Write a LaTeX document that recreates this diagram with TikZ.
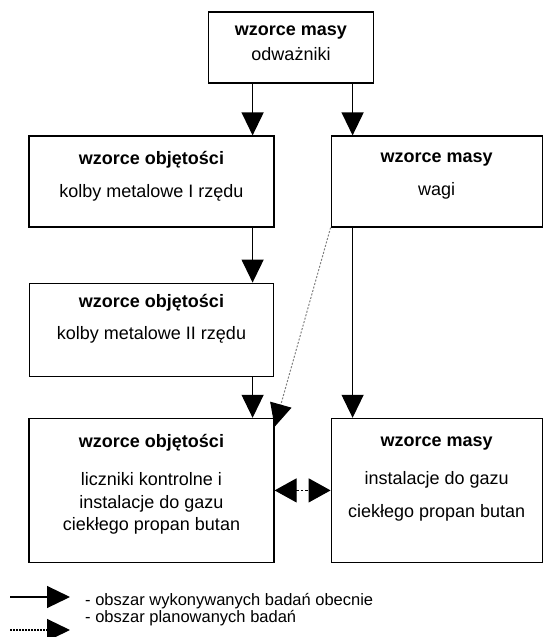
\documentclass[tikz,border=0pt]{standalone}
\usepackage{fontspec}
\setmainfont{Liberation Sans}
\usetikzlibrary{arrows.meta,positioning}

\begin{document}
\begin{tikzpicture}[
 x=1pt,y=-1pt,
 box/.style={draw,line width=1.2pt,inner sep=0pt,align=center,
   font=\fontsize{18}{21.6}\selectfont},
 legtext/.style={anchor=base west,inner sep=0pt,text height=12pt,text depth=3.5pt,
   font=\fontsize{16.5}{19.8}\selectfont},
 arr/.style={-{Triangle[length=23pt,width=22pt]},line width=1.2pt},
 plan/.style={arr,draw=gray,dash pattern=on 2pt off 1.6pt,line width=1pt}]
\useasboundingbox (0,0) rectangle (544,637);
\node[box,minimum width=165pt,minimum height=71pt,text depth=8pt] (top) at (291,47.5)
  {\textbf{wzorce masy}\\[3.4pt]odważniki};
\node[box,minimum width=245pt,minimum height=91pt,text depth=15pt] (obj1) at (151.5,181.5)
  {\textbf{wzorce objętości}\\[11.4pt]kolby metalowe I rzędu};
\node[box,minimum width=211pt,minimum height=91pt,text depth=15pt,right=56pt of obj1] (masa1)
  {\textbf{wzorce masy}\\[11.4pt]wagi};
\node[box,minimum width=244pt,minimum height=93pt,text depth=26pt,below=55pt of obj1] (obj2)
  {\textbf{wzorce objętości}\\[10.4pt]kolby metalowe II rzędu};
\node[box,minimum width=245pt,minimum height=144pt,text depth=17pt,below=41pt of obj2] (obj3)
  {\textbf{wzorce objętości}\\[16.4pt]liczniki kontrolne i\\[1.4pt]instalacje do gazu\\[0.4pt]ciekłego propan butan};
\node[box,minimum width=211pt,minimum height=144pt,text depth=27pt,right=56pt of obj3] (masa2)
  {\textbf{wzorce masy}\\[16.4pt]instalacje do gazu\\[11.4pt]ciekłego propan butan};
% arrow columns
\coordinate (a1) at ([xshift=-22pt]obj1.north east);
\coordinate (a2) at ([xshift=22pt]masa1.north west);
\draw[arr] (top.south -| a1) -- (a1);
\draw[arr] (top.south -| a2) -- (a2);
\draw[arr] (obj1.south -| a1) -- (obj2.north -| a1);
\draw[arr] (obj2.south -| a1) -- (obj3.north -| a1);
\draw[arr] (masa1.south -| a2) -- (masa2.north -| a2);
\draw[plan,-{Triangle[length=23pt,width=22pt,color=black]}] (masa1.south west) -- ([yshift=-9pt]obj3.north east);
\draw[{Triangle[length=22pt,width=24pt]}-{Triangle[length=22pt,width=24pt]},line width=1.2pt,
  dash pattern=on 2.5pt off 2pt] (obj3) -- (masa2);
% legend
\coordinate (s1) at (10,597); \coordinate (s2) at (70,597);
\coordinate (d1) at (10,630); \coordinate (d2) at (70,630);
\draw[arr] (s1) -- (s2);
\draw[arr,dash pattern=on 1.5pt off 1.5pt] (d1) -- (d2);
\node[legtext] (leg1) at (85,605.5) {- obszar wykonywanych badań obecnie};
\node[legtext] (leg2) at (85,622.5) {- obszar planowanych badań};
\end{tikzpicture}
\end{document}
